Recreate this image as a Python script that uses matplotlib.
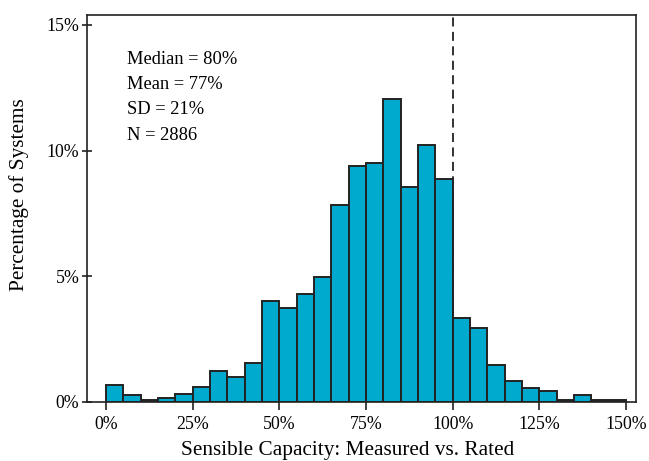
import numpy as np
import matplotlib.pyplot as plt
from matplotlib.ticker import FuncFormatter

# bin left edges (percent of rated capacity), 5% wide
binStarts = list(range(0, 150, 5))
binWidth = 5
pctSystems = [0.68, 0.27, 0.08, 0.15, 0.33, 0.61, 1.22, 1.01, 1.56, 4.02,
              3.75, 4.28, 4.96, 7.83, 9.37, 9.50, 12.04, 8.56, 10.24, 8.85,
              3.35, 2.95, 1.47, 0.82, 0.54, 0.42, 0.08, 0.28, 0.07, 0.07]
statLines = ['Median = 80%', 'Mean = 77%', 'SD = 21%', 'N = 2886']
xTicks = [0, 25, 50, 75, 100, 125, 150]
yTicks = [0, 5, 10, 15]

plt.rcParams['font.family'] = ['Liberation Serif', 'DejaVu Serif']

fig = plt.figure(figsize=(6.49, 4.61), dpi=100)
ax = fig.add_axes([0.134, 0.128, 0.846, 0.84])

ax.axvline(100, color='#222222', linestyle=(0, (5, 3)), linewidth=1.3, zorder=1)
ax.bar(binStarts, pctSystems, width=binWidth, align='edge',
       color='#00A9CE', edgecolor='#222222', linewidth=1.4, zorder=2)

ax.set_xlim(-5.5, 152.9)
ax.set_ylim(0, 15.4)
ax.set_xticks(xTicks)
ax.set_yticks(yTicks)
pct = FuncFormatter(lambda v, p: f'{v:.0f}%')
ax.xaxis.set_major_formatter(pct)
ax.yaxis.set_major_formatter(pct)
ax.tick_params(axis='both', labelsize=12.8, length=6, width=1.2, color='#222222')
ax.tick_params(axis='y', direction='inout', length=7, pad=2)
ax.tick_params(axis='x', direction='out', pad=4)

for s in ax.spines.values():
    s.set_linewidth(1.2)
    s.set_color('#222222')

ax.set_xlabel('Sensible Capacity: Measured vs. Rated', fontsize=15.3)
ax.set_ylabel('Percentage of Systems', fontsize=15.3)
ax.xaxis.set_label_coords(0.474, -0.102)
ax.yaxis.set_label_coords(-0.106, 0.535)

for i, line in enumerate(statLines):
    ax.text(0.073, 0.885 - i * 0.0654, line, transform=ax.transAxes,
            fontsize=13.3, va='center', ha='left')

fig.savefig('out.png', dpi=100)
